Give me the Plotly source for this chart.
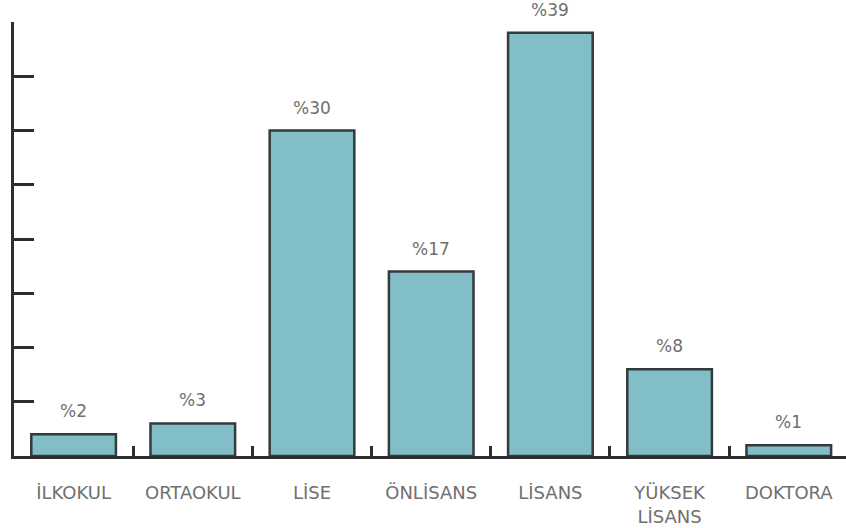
import plotly.graph_objects as go

categories = ["İLKOKUL", "ORTAOKUL", "LİSE", "ÖNLİSANS", "LİSANS", "YÜKSEK<br>LİSANS", "DOKTORA"]
values = [2, 3, 30, 17, 39, 8, 1]
labels = ["%2", "%3", "%30", "%17", "%39", "%8", "%1"]
y_ticks = [0, 5, 10, 15, 20, 25, 30, 35, 40]

FONT = "DejaVu Sans"
GRAY = "#707070"
DARK = "#2e2e2e"

fig = go.Figure()
fig.add_trace(go.Bar(
    x=categories, y=values,
    marker=dict(color="#82bec7", line=dict(color="#333a3c", width=2.5)),
    width=0.71,
    hoverinfo="skip",
))

for c, v, t in zip(categories, values, labels):
    fig.add_annotation(x=c, y=v, text=t, showarrow=False, yshift=23,
                       font=dict(family=FONT, size=17, color=GRAY))

fig.update_layout(
    width=846, height=528,
    margin=dict(l=14, r=0, t=22, b=72),
    paper_bgcolor="white", plot_bgcolor="white",
    showlegend=False,
    xaxis=dict(
        type="category", range=[-0.5, 6.48], automargin=False,
        showline=True, linecolor=DARK, linewidth=2.5,
        ticks="inside", ticklen=10, tickwidth=2.5, tickcolor=DARK,
        tickson="boundaries", showgrid=False, zeroline=False,
        tickfont=dict(family=FONT, size=18, color=GRAY),
        ticklabelstandoff=19,
    ),
    yaxis=dict(
        range=[0, 40], tickvals=y_ticks, showticklabels=False, automargin=False,
        showline=True, linecolor=DARK, linewidth=2.5,
        ticks="inside", ticklen=20, tickwidth=2.5, tickcolor=DARK,
        showgrid=False, zeroline=False,
    ),
)

fig.write_html("out.html", config={"displayModeBar": False},
               post_script="document.body.style.margin='0';")
